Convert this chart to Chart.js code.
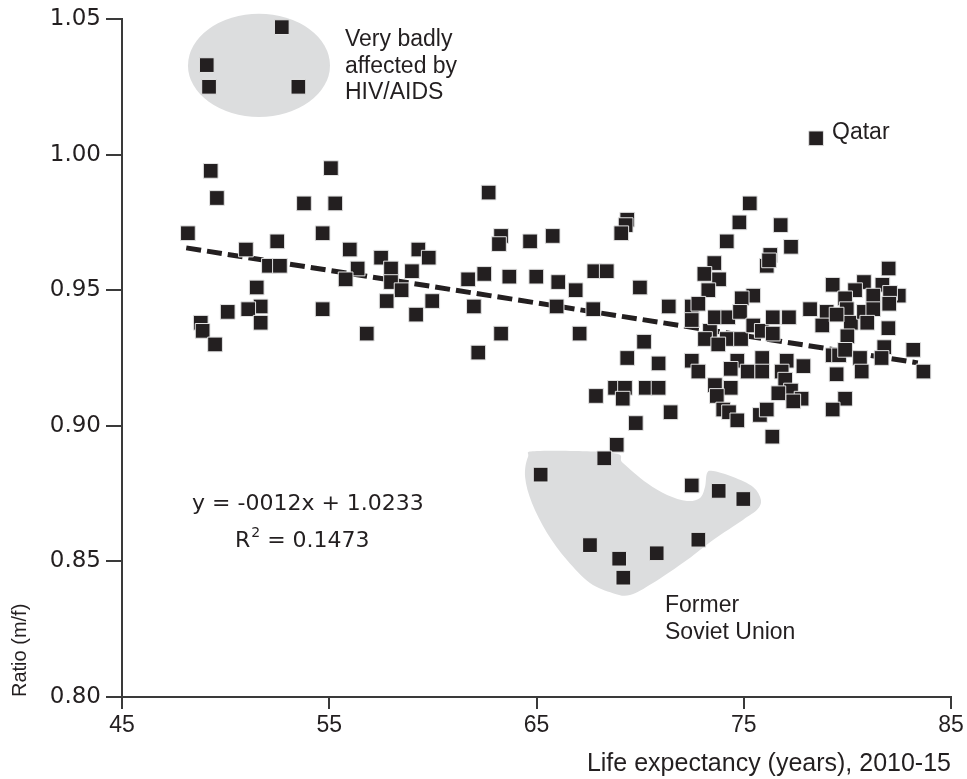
<!DOCTYPE html>
<html><head><meta charset="utf-8">
<script src="https://cdn.jsdelivr.net/npm/chart.js@4.4.1/dist/chart.umd.min.js"></script>
<style>html,body{margin:0;padding:0;background:#fff;}canvas{display:block;}</style>
</head><body>
<canvas id="c" width="967" height="779"></canvas>
<script>
// ---- data ----
const xTicks = [45, 55, 65, 75, 85];
const yTicks = [0.80, 0.85, 0.90, 0.95, 1.00, 1.05];

const lifeExpectancy = [
  52.71,49.09,49.20,53.51,
  78.49,
  49.28,55.08,49.58,53.78,55.29,48.18,54.68,50.98,52.49,55.99,52.09,52.62,57.50,56.37,59.30,59.80,57.98,58.99,55.79,57.98,58.49,51.50,57.77,59.97,51.69,51.09,50.10,54.68,59.19,48.80,51.69,48.89,49.49,56.81,
  62.69,63.29,63.19,64.69,65.78,69.38,69.30,69.09,61.70,62.48,63.69,64.99,66.05,66.89,67.79,68.39,69.99,61.98,65.97,67.74,71.38,63.29,67.08,62.19,70.19,69.38,70.89,68.79,69.27,70.27,70.89,67.87,69.16,
  69.79,68.87,68.27,65.20,72.49,73.79,74.98,67.58,68.99,70.80,72.81,69.19,76.38,
  75.29,74.79,76.78,74.18,77.28,76.28,76.11,76.22,73.58,73.10,73.81,73.29,75.46,74.90,81.99,79.29,80.80,80.37,81.69,82.48,79.89,81.25,82.06,
  72.49,72.81,72.49,73.37,73.61,74.25,74.82,74.18,74.87,75.46,75.87,76.40,77.18,76.40,73.13,73.77,78.20,79.00,78.79,79.97,80.17,80.80,81.25,82.02,80.96,81.98,79.48,80.00,79.29,79.60,79.89,80.61,79.48,80.69,81.78,81.65,83.18,83.67,79.89,79.29,
  72.49,72.81,74.69,74.37,75.19,75.89,75.89,73.61,74.37,73.70,74.01,74.29,74.69,75.78,76.11,77.07,77.88,76.83,77.00,77.28,76.67,77.79,77.39,71.47
];
const sexRatio = [
  1.047,1.033,1.025,1.025,
  1.006,
  0.994,0.995,0.984,0.982,0.982,0.971,0.971,0.965,0.968,0.965,0.959,0.959,0.962,0.958,0.965,0.962,0.958,0.957,0.954,0.953,0.950,0.951,0.946,0.946,0.944,0.943,0.942,0.943,0.941,0.938,0.938,0.935,0.930,0.934,
  0.986,0.970,0.967,0.968,0.970,0.976,0.974,0.971,0.954,0.956,0.955,0.955,0.953,0.950,0.957,0.957,0.951,0.944,0.944,0.943,0.944,0.934,0.934,0.927,0.931,0.925,0.923,0.914,0.914,0.914,0.914,0.911,0.910,
  0.901,0.893,0.888,0.882,0.878,0.876,0.873,0.856,0.851,0.853,0.858,0.844,0.896,
  0.982,0.975,0.974,0.968,0.966,0.963,0.959,0.961,0.960,0.956,0.954,0.950,0.948,0.947,0.958,0.952,0.953,0.950,0.952,0.948,0.947,0.948,0.949,
  0.944,0.945,0.939,0.935,0.940,0.940,0.942,0.932,0.932,0.937,0.935,0.940,0.940,0.934,0.932,0.930,0.943,0.942,0.937,0.943,0.938,0.942,0.943,0.945,0.938,0.936,0.941,0.933,0.926,0.926,0.928,0.925,0.919,0.920,0.929,0.925,0.928,0.920,0.910,0.906,
  0.924,0.920,0.924,0.921,0.920,0.925,0.920,0.915,0.914,0.911,0.906,0.905,0.902,0.904,0.906,0.924,0.922,0.920,0.917,0.913,0.912,0.910,0.909,0.905
];

// fitted trend line (y = -0.0012x + 1.0233), endpoints as drawn
const trendX = [48.1, 83.4];
const trendY = [0.9656, 0.9232];

// ---- annotation shapes (data coordinates) ----
const hivCenter = [51.61, 1.0329];
const hivRadius = [3.426, 0.01899];
const sovietX = [65.02,68.69,69.17,70.33,71.30,72.26,72.89,73.13,73.23,73.52,74.49,75.45,75.83,75.64,74.96,73.52,72.26,70.62,69.51,68.69,67.58,66.47,65.51,64.78,64.45,64.59];
const sovietY = [0.8907,0.8900,0.8863,0.8789,0.8745,0.8723,0.8734,0.8774,0.8826,0.8833,0.8811,0.8774,0.8726,0.8690,0.8653,0.8579,0.8505,0.8420,0.8376,0.8383,0.8420,0.8505,0.8605,0.8715,0.8811,0.8885];

const notes = [
  {x: 55.76, y: 1.0400, lines: ['Very badly', 'affected by', 'HIV/AIDS']},
  {x: 79.26, y: 1.0058, lines: ['Qatar']},
  {x: 71.20, y: 0.8313, lines: ['Former', 'Soviet Union']}
];
const eqLine1 = {x: 48.38, y: 0.8690, text: 'y = -0012x + 1.0233'};
const eqLine2 = {x: 50.45, y: 0.8553, pre: 'R', sup: '2', post: ' = 0.1473'};

const INK = '#231f20';
const AXIS = '#3a3a3a';

const blobPlugin = {
  id: 'blobs',
  beforeDatasetsDraw(chart) {
    const {ctx, scales: {x, y}} = chart;
    ctx.save();
    ctx.fillStyle = '#dcddde';
    const cx = x.getPixelForValue(hivCenter[0]), cy = y.getPixelForValue(hivCenter[1]);
    const rx = Math.abs(x.getPixelForValue(hivCenter[0] + hivRadius[0]) - cx);
    const ry = Math.abs(y.getPixelForValue(hivCenter[1] + hivRadius[1]) - cy);
    ctx.beginPath();
    ctx.ellipse(cx, cy, rx, ry, 0, 0, Math.PI * 2);
    ctx.fill();
    const p = sovietX.map((v, i) => [x.getPixelForValue(v), y.getPixelForValue(sovietY[i])]);
    const n = p.length;
    ctx.beginPath();
    ctx.moveTo(p[0][0], p[0][1]);
    for (let i = 0; i < n; i++) {
      const p0 = p[(i - 1 + n) % n], p1 = p[i], p2 = p[(i + 1) % n], p3 = p[(i + 2) % n];
      const c1 = [p1[0] + (p2[0] - p0[0]) / 6, p1[1] + (p2[1] - p0[1]) / 6];
      const c2 = [p2[0] - (p3[0] - p1[0]) / 6, p2[1] - (p3[1] - p1[1]) / 6];
      ctx.bezierCurveTo(c1[0], c1[1], c2[0], c2[1], p2[0], p2[1]);
    }
    ctx.closePath();
    ctx.fill();
    ctx.restore();
  }
};

const textPlugin = {
  id: 'notes',
  afterDraw(chart) {
    const {ctx, scales: {x, y}} = chart;
    ctx.save();
    ctx.fillStyle = INK;
    ctx.textAlign = 'left';
    ctx.textBaseline = 'alphabetic';
    ctx.font = '23px "Liberation Sans", Arial, sans-serif';
    notes.forEach(nt => {
      const px = x.getPixelForValue(nt.x), py = y.getPixelForValue(nt.y);
      nt.lines.forEach((t, i) => ctx.fillText(t, px, py + i * 26.5));
    });
    ctx.font = '22px "DejaVu Sans", sans-serif';
    ctx.fillText(eqLine1.text, x.getPixelForValue(eqLine1.x), y.getPixelForValue(eqLine1.y));
    let px = x.getPixelForValue(eqLine2.x);
    const py = y.getPixelForValue(eqLine2.y);
    ctx.fillText(eqLine2.pre, px, py);
    px += ctx.measureText(eqLine2.pre).width + 1;
    ctx.font = '14px "DejaVu Sans", sans-serif';
    ctx.fillText(eqLine2.sup, px, py - 10);
    px += ctx.measureText(eqLine2.sup).width;
    ctx.font = '22px "DejaVu Sans", sans-serif';
    ctx.fillText(eqLine2.post, px, py);
    ctx.restore();
  }
};

new Chart(document.getElementById('c'), {
  type: 'scatter',
  data: {
    datasets: [
      {
        label: 'Countries',
        data: lifeExpectancy.map((v, i) => ({x: v, y: sexRatio[i]})),
        pointStyle: 'rect',
        pointRadius: 10.4,
        pointHoverRadius: 10.4,
        backgroundColor: INK,
        borderColor: '#e4e4e4',
        borderWidth: 1,
        order: 0
      },
      {
        type: 'line',
        label: 'Trend',
        data: trendX.map((v, i) => ({x: v, y: trendY[i]})),
        borderColor: INK,
        borderWidth: 5,
        borderDash: [15, 6],
        pointRadius: 0,
        fill: false,
        order: 1
      }
    ]
  },
  options: {
    responsive: false,
    animation: false,
    devicePixelRatio: 1,
    events: [],
    layout: {padding: {top: 19, right: 16, left: 0, bottom: 0}},
    plugins: {legend: {display: false}, tooltip: {enabled: false}},
    scales: {
      x: {
        type: 'linear', min: 45, max: 85,
        afterFit(s) { s.height = 82; },
        afterBuildTicks(s) { s.ticks = xTicks.map(v => ({value: v})); },
        ticks: {font: {family: 'Liberation Sans', size: 23}, color: INK, padding: 3, maxRotation: 0, callback: v => String(v)},
        grid: {drawOnChartArea: false, drawTicks: true, tickLength: 12, color: AXIS, lineWidth: 2},
        border: {display: true, color: AXIS, width: 2},
        title: {display: true, text: 'Life expectancy (years), 2010-15', align: 'end', color: INK,
                font: {family: 'Liberation Sans', size: 25, lineHeight: 1.2}, padding: {top: 0, bottom: 0}}
      },
      y: {
        type: 'linear', min: 0.80, max: 1.05,
        afterFit(s) { s.width = 122; },
        afterBuildTicks(s) { s.ticks = yTicks.map(v => ({value: v})); },
        ticks: {font: {family: 'DejaVu Sans', size: 23}, color: INK, padding: 5, callback: v => Number(v).toFixed(2)},
        grid: {drawOnChartArea: false, drawTicks: true, tickLength: 16, color: AXIS, lineWidth: 2},
        border: {display: true, color: AXIS, width: 2},
        title: {display: true, text: 'Ratio (m/f)', align: 'start', color: INK,
                font: {family: 'Liberation Sans', size: 20, lineHeight: 1.2}, padding: {top: 8, bottom: 0}}
      }
    }
  },
  plugins: [blobPlugin, textPlugin]
});
</script>
</body></html>
